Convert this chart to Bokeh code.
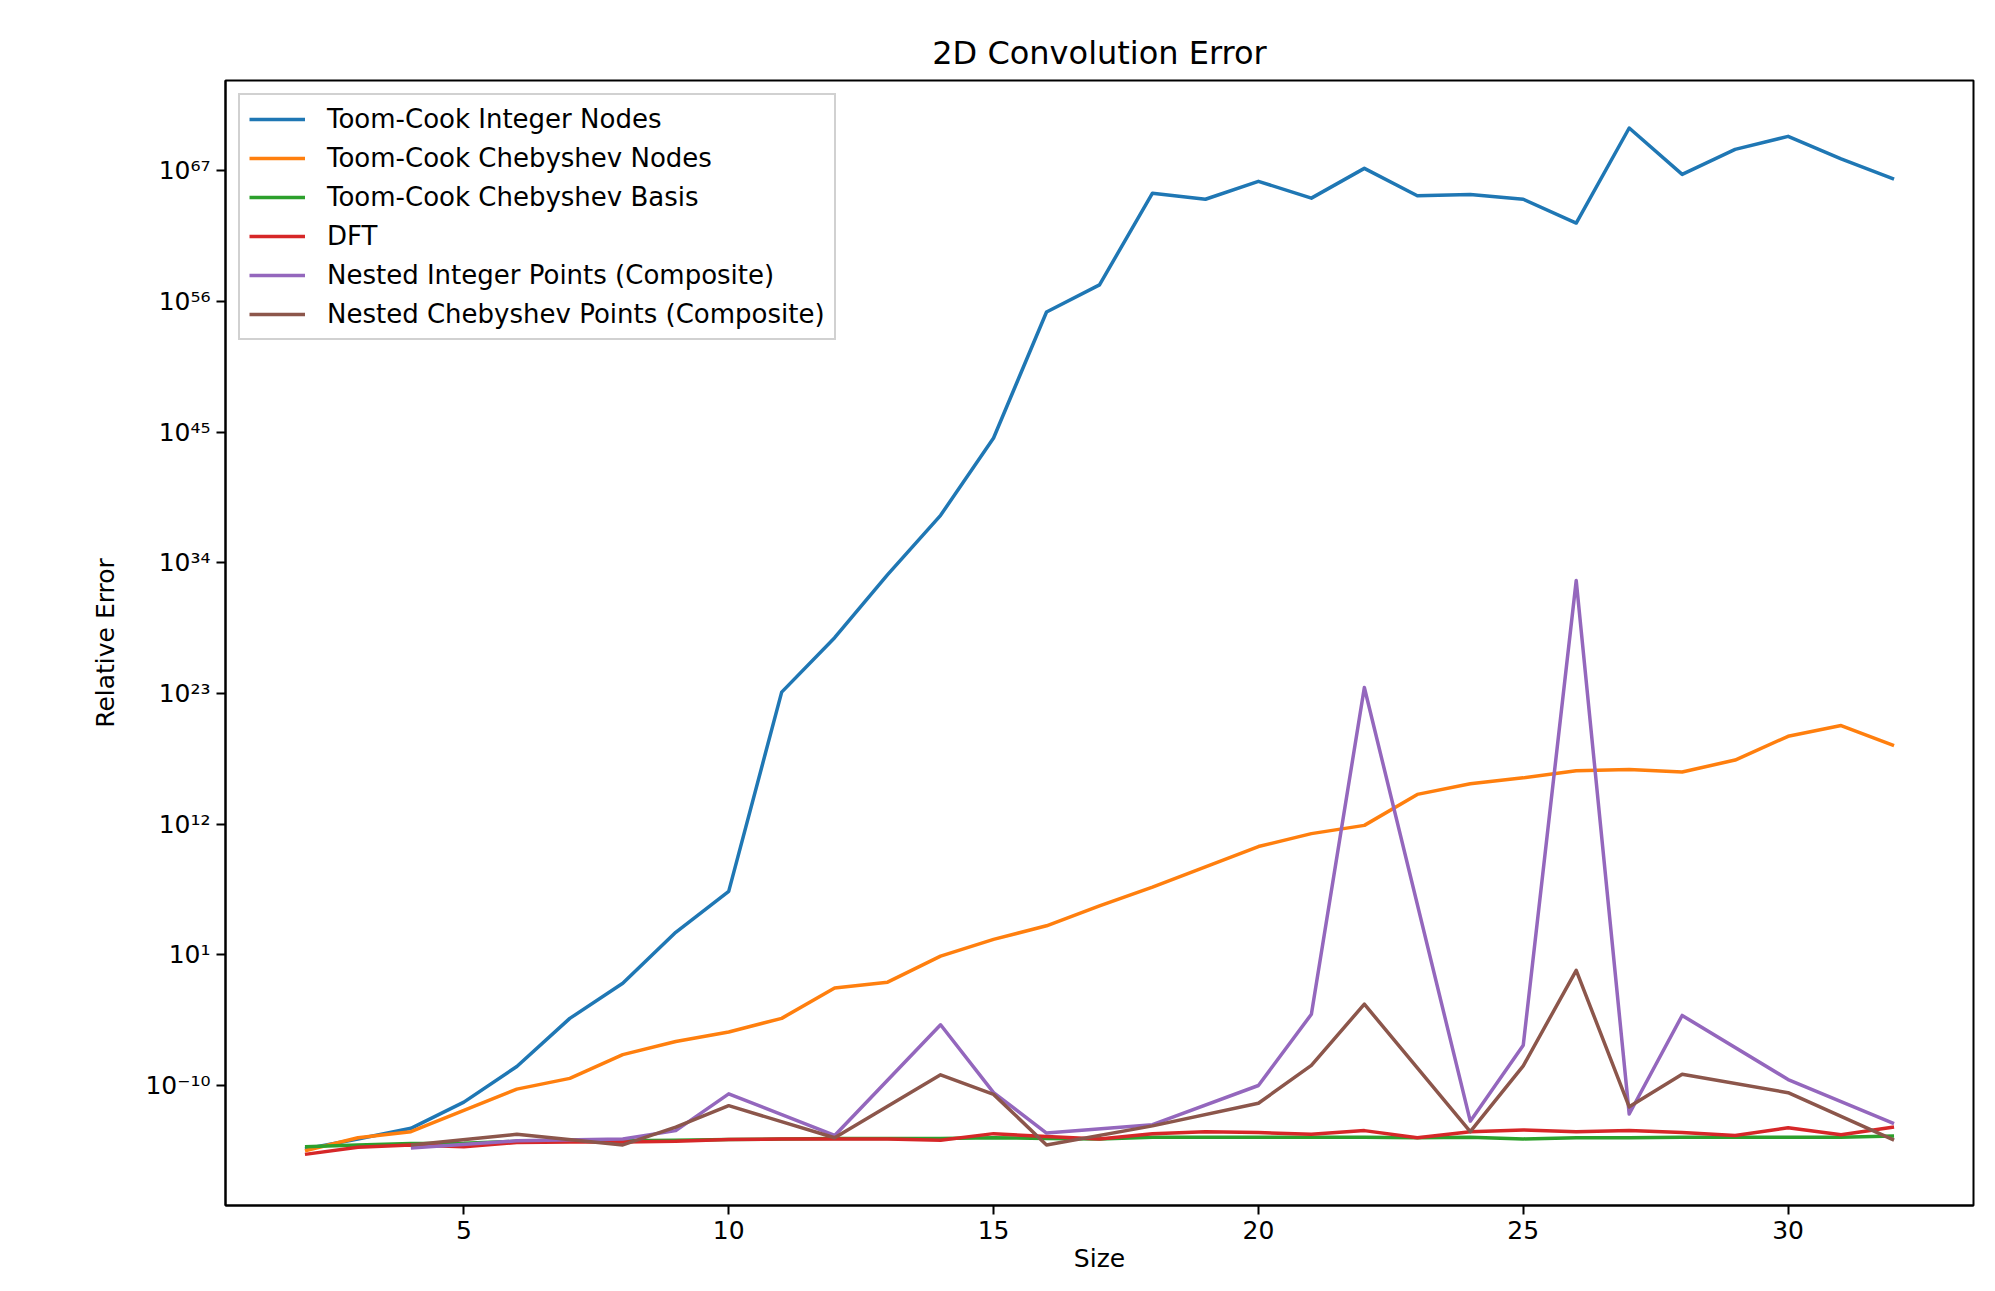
from bokeh.plotting import figure
from bokeh.models import Legend, LegendItem, FixedTicker, CustomJSTickFormatter, Range1d
from bokeh.embed import file_html
from bokeh.resources import INLINE

# ---------------- data ----------------
sizes = list(range(2, 33))
composite_sizes = [4, 6, 8, 9, 10, 12, 14, 15, 16, 18, 20, 21, 22, 24, 25, 26, 27, 28, 30, 32]

toom_cook_integer_nodes = [
    4.5e-16, 3.2e-15, 2.5e-14, 4.0e-12, 4.0e-9, 4.5e-5, 4.0e-2, 7.9e2, 2.2e6, 1.3e23,
    5.0e27, 1.0e33, 1.0e38, 3.2e44, 1.3e55, 2.5e57, 1.3e65, 4.0e64, 1.3e66, 5.0e64,
    1.6e67, 7.9e64, 1.0e65, 4.0e64, 4.0e62, 4.0e70, 5.0e66, 6.3e68, 7.9e69, 1.0e68, 2.0e66,
]
toom_cook_chebyshev_nodes = [
    3.2e-16, 4.0e-15, 1.3e-14, 7.9e-13, 5.0e-11, 4.0e-10, 4.0e-8, 5.0e-7, 3.2e-6, 4.5e-5,
    1.6e-2, 5.0e-2, 7.9, 2.0e2, 2.8e3, 1.3e5, 5.0e6, 2.5e8, 1.3e10, 1.6e11,
    7.9e11, 3.2e14, 2.5e15, 7.9e15, 3.2e16, 4.0e16, 2.5e16, 2.5e17, 2.5e19, 2.0e20, 4.0e18,
]
toom_cook_chebyshev_basis = [
    7.1e-16, 1.0e-15, 1.3e-15, 1.4e-15, 2.0e-15, 2.0e-15, 2.2e-15, 2.5e-15, 2.8e-15, 3.2e-15,
    3.5e-15, 3.5e-15, 3.5e-15, 4.0e-15, 3.5e-15, 3.2e-15, 4.5e-15, 4.5e-15, 4.5e-15, 4.5e-15,
    4.5e-15, 4.0e-15, 4.5e-15, 3.2e-15, 4.0e-15, 4.0e-15, 4.5e-15, 4.5e-15, 4.5e-15, 4.5e-15, 5.6e-15,
]
dft = [
    1.6e-16, 6.3e-16, 1.0e-15, 7.1e-16, 1.6e-15, 1.8e-15, 1.8e-15, 2.0e-15, 2.8e-15, 3.2e-15,
    3.2e-15, 3.2e-15, 2.5e-15, 8.9e-15, 5.0e-15, 3.2e-15, 8.9e-15, 1.3e-14, 1.1e-14, 7.9e-15,
    1.6e-14, 4.0e-15, 1.3e-14, 1.8e-14, 1.3e-14, 1.6e-14, 1.1e-14, 6.3e-15, 2.8e-14, 7.1e-15, 3.2e-14,
]
nested_integer_points = [
    5.6e-16, 2.2e-15, 3.2e-15, 1.6e-14, 2.0e-11, 6.3e-15, 1.3e-5, 2.5e-11, 1.0e-14, 5.0e-14,
    1.0e-10, 1.0e-4, 3.2e23, 1.0e-13, 2.5e-7, 3.2e32, 4.0e-13, 7.9e-5, 3.2e-10, 6.3e-14,
]
nested_chebyshev_points = [
    1.0e-15, 7.9e-15, 1.0e-15, 3.2e-14, 2.0e-12, 4.0e-15, 7.9e-10, 1.8e-11, 1.0e-15, 4.0e-14,
    3.2e-12, 5.0e-9, 7.1e-4, 1.3e-14, 4.5e-9, 0.5, 1.6e-12, 8.9e-10, 2.5e-11, 2.5e-15,
]

series_labels = [
    "Toom-Cook Integer Nodes",
    "Toom-Cook Chebyshev Nodes",
    "Toom-Cook Chebyshev Basis",
    "DFT",
    "Nested Integer Points (Composite)",
    "Nested Chebyshev Points (Composite)",
]
x_ticks = [5, 10, 15, 20, 25, 30]
y_ticks = [1e-10, 1e1, 1e12, 1e23, 1e34, 1e45, 1e56, 1e67]

title_text = "2D Convolution Error"
x_label = "Size"
y_label = "Relative Error"

# ---------------- styling ----------------
colors = ["#1f77b4", "#ff7f0e", "#2ca02c", "#d62728", "#9467bd", "#8c564b"]
FONT = "DejaVu Sans"
LW = 3.5

p = figure(
    width=1987, height=1275,
    x_range=Range1d(0.5, 33.5),
    y_range=Range1d(10 ** -20.1, 10 ** 74.6),
    y_axis_type="log",
    output_backend="svg",
    toolbar_location=None,
    min_border_left=225, min_border_top=80, min_border_right=14, min_border_bottom=66,
)

p.title.text = title_text
p.title.align = "center"
p.title.text_font = FONT
p.title.text_font_size = "32px"
p.title.text_font_style = "normal"
p.title.text_color = "black"
p.title.standoff = 18

p.xgrid.visible = False
p.ygrid.visible = False
p.outline_line_color = "black"
p.outline_line_width = 2
p.background_fill_color = "white"
p.border_fill_color = "white"

for ax in (p.xaxis[0], p.yaxis[0]):
    ax.axis_line_color = "black"
    ax.axis_line_width = 2
    ax.major_tick_line_color = "black"
    ax.major_tick_line_width = 2
    ax.major_tick_out = 9
    ax.major_tick_in = 0
    ax.minor_tick_line_color = None
    ax.major_label_text_font = FONT
    ax.major_label_text_font_size = "25px"
    ax.major_label_text_color = "black"
    ax.major_label_standoff = 6
    ax.axis_label_text_font = FONT
    ax.axis_label_text_font_size = "25px"
    ax.axis_label_text_font_style = "normal"
    ax.axis_label_text_color = "black"

p.xaxis[0].ticker = FixedTicker(ticks=x_ticks)
p.xaxis[0].axis_label = x_label
p.xaxis[0].axis_label_standoff = 2
p.yaxis[0].ticker = FixedTicker(ticks=y_ticks)
p.yaxis[0].axis_label = y_label
p.yaxis[0].axis_label_standoff = 22
p.yaxis[0].formatter = CustomJSTickFormatter(code="""
const e = Math.round(Math.log10(tick));
const m = {"0":"\u2070","1":"\u00b9","2":"\u00b2","3":"\u00b3","4":"\u2074","5":"\u2075",
           "6":"\u2076","7":"\u2077","8":"\u2078","9":"\u2079","-":"\u207b"};
return "10" + String(e).split("").map(c => m[c]).join("");
""")

all_series = [
    (sizes, toom_cook_integer_nodes),
    (sizes, toom_cook_chebyshev_nodes),
    (sizes, toom_cook_chebyshev_basis),
    (sizes, dft),
    (composite_sizes, nested_integer_points),
    (composite_sizes, nested_chebyshev_points),
]

items = []
for (xs, ys), col, lab in zip(all_series, colors, series_labels):
    r = p.line(xs, ys, line_color=col, line_width=LW, line_join="round")
    items.append(LegendItem(label=lab, renderers=[r]))

legend = Legend(
    items=items,
    location="top_left",
    margin=13,
    padding=9,
    spacing=9,
    label_height=26,
    glyph_height=26,
    glyph_width=56,
    label_standoff=22,
    label_text_font=FONT,
    label_text_font_size="26px",
    label_text_color="black",
    border_line_color="#cccccc",
    border_line_width=2,
    border_line_alpha=0.9,
    background_fill_color="white",
    background_fill_alpha=0.8,
)
p.add_layout(legend)

open("out.html", "w").write(file_html(p, INLINE))
